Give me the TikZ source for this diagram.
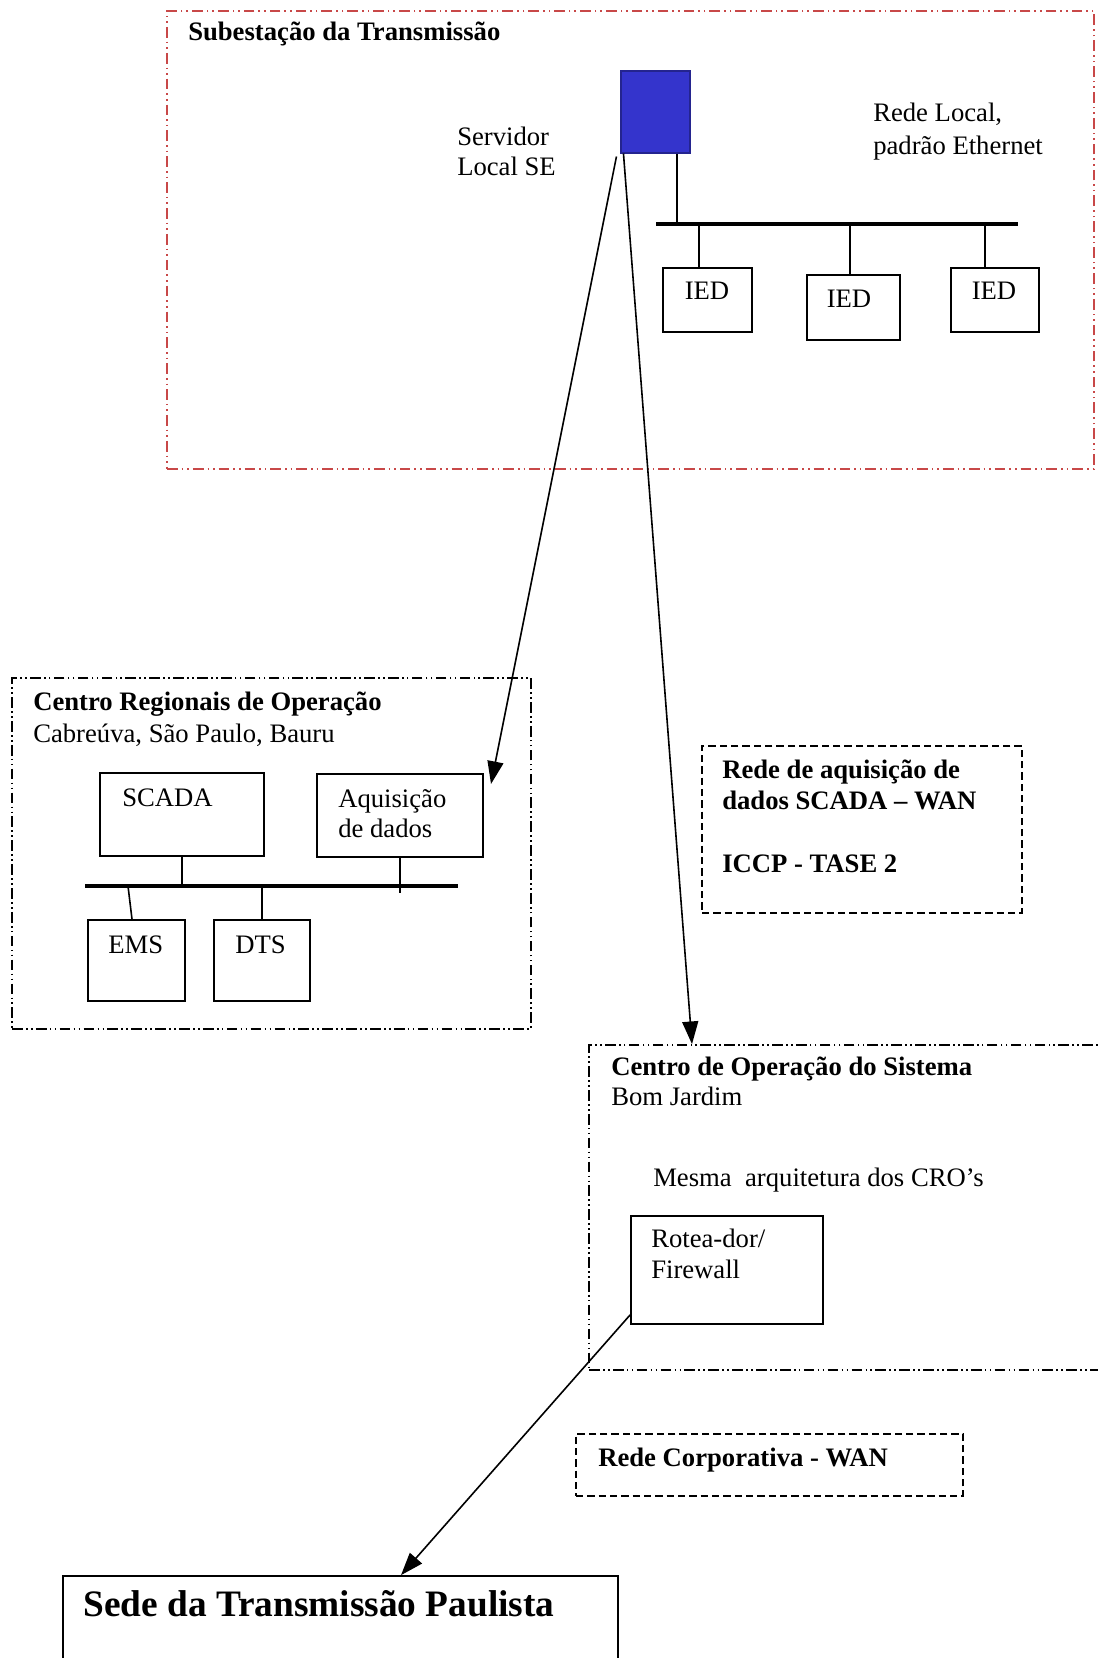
\documentclass[tikz,border=0pt]{standalone}
\usepackage{fontspec}
\setmainfont{Liberation Serif}
\usetikzlibrary{fit,calc,arrows.meta}

\definecolor{subred}{RGB}{200,72,72}
\definecolor{srvblue}{RGB}{52,52,204}

\begin{document}
\begin{tikzpicture}[x=0.75pt,y=-0.75pt,
  txt/.style={anchor=base west,inner sep=0pt,font=\fontsize{20}{22.5}\selectfont},
  btxt/.style={anchor=base west,inner sep=0pt,font=\fontsize{20}{22.5}\selectfont\bfseries},
  bigtxt/.style={anchor=base west,inner sep=0pt,font=\fontsize{28}{32}\selectfont\bfseries},
  unit/.style={draw,line width=1.3pt,inner sep=0pt},
  ddot/.style={draw,line width=1.3pt,inner sep=0pt,
    dash pattern=on 8pt off 2.5pt on 1.2pt off 2.5pt on 1.2pt off 2.5pt},
  reddot/.style={draw=subred,line width=1.3pt,inner sep=0pt,
    dash pattern=on 8pt off 3pt on 1.2pt off 3pt on 1.2pt off 3pt},
  dashbox/.style={draw,line width=1.3pt,inner sep=0pt,dash pattern=on 5.5pt off 3pt},
  link/.style={line width=1.2pt},
  bus/.style={line width=3.2pt},
  arrow/.style={line width=1.2pt,-{Triangle[length=17pt,width=12pt]}}
]
\useasboundingbox (0,0) rectangle (1098,1658);
\fill[white] (0,0) rectangle (1098,1658);
\clip (0,0) rectangle (1098,1658);

% ---------- Substation ----------
\node[reddot,fit={(167,11) (1094,469)}] (sub) {};
\node[btxt] (tsub) at (188,41) {Subestação da Transmissão};

\node[draw=srvblue!70!black,line width=0.8pt,fill=srvblue,inner sep=0pt,
      fit={(621,71) (690,153)}] (server) {};
\node[txt] (tsrv1) at (457,146) {Servidor};
\node[txt] (tsrv2) at (457,176) {Local SE};

\node[txt] (tlan1) at (873,122) {Rede Local,};
\node[txt] (tlan2) at (873,155) {padrão Ethernet};

\coordinate (lanL) at (656,224);
\coordinate (lanR) at (1018,224);
\draw[bus] (lanL) -- (lanR);
\draw[link] (677,0 |- server.south) -- (677,0 |- lanL);

\node[unit,fit={(663,268) (752,332)}] (ied1) {};
\node[unit,fit={(807,275) (900,340)}] (ied2) {};
\node[unit,fit={(951,268) (1039,332)}] (ied3) {};
\node[txt,anchor=base] (tied1) at (707,300) {IED};
\node[txt,anchor=base] (tied2) at (849,307) {IED};
\node[txt,anchor=base] (tied3) at (994,300) {IED};
\draw[link] (699,0 |- lanL) -- (699,0 |- ied1.north);
\draw[link] (850,0 |- lanL) -- (850,0 |- ied2.north);
\draw[link] (985,0 |- lanL) -- (985,0 |- ied3.north);

% ---------- Regional centres ----------
\node[ddot,fit={(12,678) (531,1029)}] (cro) {};
\node[btxt] (tcro1) at (33,710) {Centro Regionais de Operação};
\node[txt] (tcro2) at (33,742) {Cabreúva, São Paulo, Bauru};

\node[unit,fit={(100,773) (264,856)}] (scada) {};
\node[txt] (tscada) at (122,806) {SCADA};
\node[unit,fit={(317,774) (483,857)}] (aq) {};
\node[txt] (taq1) at (338,807) {Aquisição};
\node[txt] (taq2) at (338,837) {de dados};

\coordinate (cbusL) at (85,886);
\coordinate (cbusR) at (458,886);
\draw[bus] (cbusL) -- (cbusR);

\node[unit,fit={(88,920) (185,1001)}] (ems) {};
\node[txt] (tems) at (108,953) {EMS};
\node[unit,fit={(214,920) (310,1001)}] (dts) {};
\node[txt] (tdts) at (235,953) {DTS};

\draw[link] (scada.south) -- (scada.south |- cbusL);
\draw[link] (aq.south) -- ($(aq.south |- cbusL)+(0,7)$);
\draw[link] (128,0 |- cbusL) -- (132,0 |- ems.north);
\draw[link] (dts.north |- cbusL) -- (dts.north);

% ---------- SCADA WAN label ----------
\node[dashbox,fit={(702,746) (1022,913)}] (wan) {};
\node[btxt] (twan1) at (722,778) {Rede de aquisição de};
\node[btxt] (twan2) at (722,809) {dados SCADA – WAN};
\node[btxt] (twan3) at (722,872) {ICCP - TASE 2};

% ---------- System operation centre ----------
\node[ddot,fit={(589,1045) (1120,1370)}] (cos) {};
\node[btxt] (tcos1) at (611,1075) {Centro de Operação do Sistema};
\node[txt] (tcos2) at (611,1105) {Bom Jardim};
\node[txt] (tcos3) at (653,1186) {Mesma~ arquitetura dos CRO’s};

\node[unit,fit={(631,1216) (823,1324)}] (rot) {};
\node[txt] (trot1) at (651,1247) {Rotea-dor/};
\node[txt] (trot2) at (651,1278) {Firewall};

% ---------- Corporate WAN label ----------
\node[dashbox,fit={(576,1434) (963,1496)}] (corp) {};
\node[btxt] (tcorp) at (598,1466) {Rede Corporativa - WAN};

% ---------- Head office ----------
\node[unit,fit={(63,1576) (618,1700)}] (sede) {};
\node[bigtxt] (tsede) at (83,1616) {Sede da Transmissão Paulista};

% ---------- WAN links ----------
\coordinate (aqtip) at (491,784);
\draw[arrow] ($(server.south west)+(-4,3)$) -- (aqtip);
\draw[arrow] ($(server.south west)+(3,0)$) -- (692,0 |- cos.north);
\draw[arrow] ($(rot.south west)+(0,-10)$) -- (401,0 |- sede.north);
\end{tikzpicture}
\end{document}
